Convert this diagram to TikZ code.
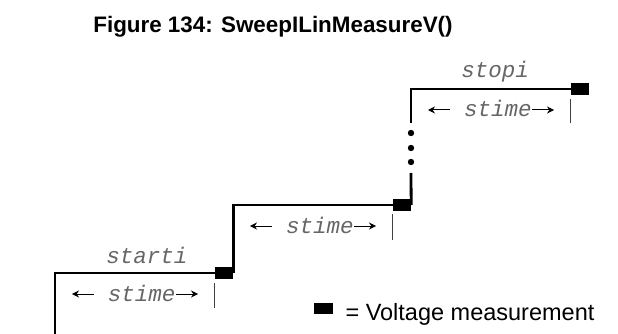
\documentclass[tikz,border=0pt]{standalone}
\usepackage{fontspec}
\setmainfont{Liberation Sans}
\newfontfamily\stepfont{Liberation Mono}
\usetikzlibrary{positioning,arrows.meta}

\newcommand{\larr}{\tikz[x=1pt,y=1pt,baseline=-7pt]\draw[{Stealth[length=7pt,width=7pt]}-, line width=1pt] (0,0) -- (22,0);}
\newcommand{\rarr}{\tikz[x=1pt,y=1pt,baseline=-7pt]\draw[-{Stealth[length=7pt,width=7pt]}, line width=1pt] (0,0) -- (22,0);}
\newcommand{\stimetext}{\larr\ {\color{black!60}stime}\rarr}

\begin{document}
\begin{tikzpicture}[x=1pt, y=-1pt,
      stair/.style={line width=2.8pt},
      meas/.style={fill=black, inner sep=0pt, minimum width=18pt, minimum height=12pt},
      lbl/.style={anchor=base, text=black!60, font=\fontsize{22.5}{26}\stepfont\itshape},
      tlbl/.style={anchor=base, inner sep=0pt, font=\fontsize{22.5}{26}\stepfont\itshape},
      tick/.style={line width=0.9pt, black!75}]
    \useasboundingbox (0,0) rectangle (618,334);
    \node[anchor=base, font=\fontsize{22.4}{26}\selectfont\bfseries] (title) at (273,33) {Figure 134: SweepILinMeasureV()};
    % measurement points
    \node[meas] (m1) at (224,273) {};
    \node[meas] (m2) at (402,205) {};
    \node[meas] (m3) at (580,89) {};
    \coordinate (base) at (55,334);
    \coordinate (gapl) at (411,173);
    \coordinate (gaph) at (411,123);
    % staircase
    \draw[stair] (base) |- (m1.west);
    \draw[stair] (m1.east) |- (m2.west);
    \draw[stair] (m2.east) -- (gapl);
    \draw[stair] (gaph) |- (m3.west);
    \foreach \y in {133,148,162}
      \fill (411,\y) circle (3.2pt);
    % levels and step time
    \node[lbl] (start) at (147,263) {starti};
    \node[lbl] (stop) at (495,78) {stopi};
    \node[tlbl] (t1) at (135,301) {\stimetext};
    \node[tlbl] (t2) at (313,233) {\stimetext};
    \node[tlbl] (t3) at (491,117) {\stimetext};
    \draw[tick] (m1.south west) ++(0,4) -- ++(0,25);
    \draw[tick] (m2.south west) ++(0,3) -- ++(0,26);
    \draw[tick] (m3.south west) ++(0,4) -- ++(0,24);
    % legend
    \node[meas, minimum width=19pt, minimum height=11pt] (key) at (323.5,308.5) {};
    \node[anchor=base west, font=\fontsize{23.5}{27}\selectfont] (keytext) at (342,320) {= Voltage measurement};
  \end{tikzpicture}
\end{document}
